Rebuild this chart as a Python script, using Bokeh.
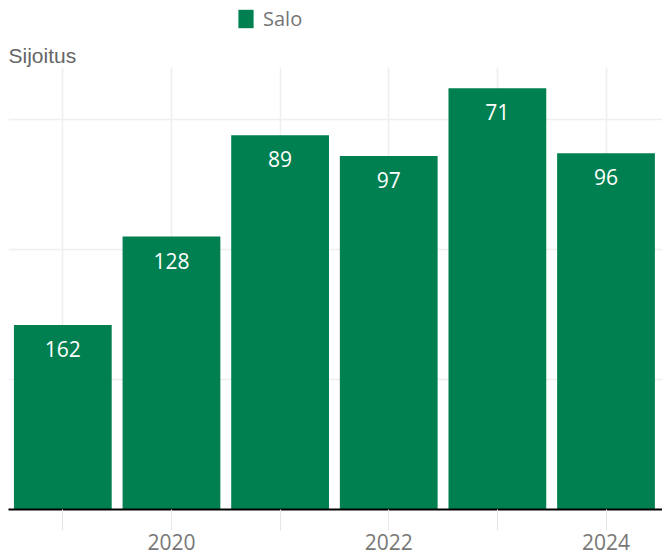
from bokeh.plotting import figure
from bokeh.models import (ColumnDataSource, Range1d, FixedTicker, Legend, LegendItem, Label)
from bokeh.core.properties import value
from bokeh.embed import file_html
from bokeh.resources import INLINE

# ---- data ----
years = [2019, 2020, 2021, 2022, 2023, 2024]
ranks = [162, 128, 89, 97, 71, 96]
labeled_years = [2020, 2022, 2024]
unlabeled_years = [2019, 2021, 2023]
grid_ranks = [83, 133, 183]
series_name = "Salo"
axis_title = "Sijoitus"

RANK_BOTTOM = 233      # value at the x axis line
RANK_GRID_TOP = 63     # where the vertical grid lines stop
RANK_VIEW_TOP = 37.2   # top of drawing area (room for legend and title)
GREEN = "#008050"
GRID = "#efefef"

source = ColumnDataSource(dict(year=years, rank=ranks, label=[str(r) for r in ranks]))

p = figure(frame_width=654, frame_height=509,
           x_range=Range1d(2018.5, 2024.52), y_range=Range1d(RANK_BOTTOM, RANK_VIEW_TOP),
           y_axis_location=None, toolbar_location=None, output_backend="svg",
           min_border_left=8, min_border_right=0, min_border_top=0, min_border_bottom=48,
           outline_line_color=None, background_fill_color="white", border_fill_color="white")

r = p.vbar(x="year", top="rank", bottom=RANK_BOTTOM, width=0.9, source=source,
           fill_color=GREEN, line_color=None)

p.text(x="year", y="rank", text="label", source=source, y_offset=24,
       text_align="center", text_baseline="middle", text_color="white",
       text_font=value("Open Sans"), text_font_size="21px")

# axes
ax = p.xaxis[0]
ax.ticker = FixedTicker(ticks=labeled_years, minor_ticks=unlabeled_years)
ax.major_tick_in = 0
ax.major_tick_out = 21
ax.minor_tick_in = 0
ax.minor_tick_out = 21
ax.major_tick_line_color = "#e6e6e6"
ax.minor_tick_line_color = "#e6e6e6"
ax.axis_line_color = "black"
ax.axis_line_width = 2
ax.major_label_standoff = 3
ax.major_label_text_font = "Open Sans"
ax.major_label_text_font_size = "21px"
ax.major_label_text_color = "#777777"

p.xgrid.ticker = FixedTicker(ticks=years)
p.xgrid.cross_bounds = (RANK_BOTTOM, RANK_GRID_TOP)
p.xgrid.grid_line_color = GRID
p.xgrid.grid_line_width = 1.5
p.ygrid.ticker = FixedTicker(ticks=grid_ranks)
p.ygrid.grid_line_color = GRID
p.ygrid.grid_line_width = 1.5

title = Label(text=axis_title, x=0, y=454, x_units="screen", y_units="screen",
              text_font="Liberation Sans", text_font_size="21px",
              text_color="#666666", text_baseline="alphabetic", text_align="left")
p.add_layout(title)

legend = Legend(items=[LegendItem(label=series_name, renderers=[r])],
                orientation="horizontal", location=(228, 477),
                glyph_width=19, glyph_height=23, label_standoff=8,
                label_text_font="Open Sans", label_text_font_size="20px",
                label_text_color="#757575", padding=0, margin=0,
                border_line_color=None, background_fill_alpha=0)
p.add_layout(legend, "center")

open("out.html", "w").write(file_html(p, INLINE))
